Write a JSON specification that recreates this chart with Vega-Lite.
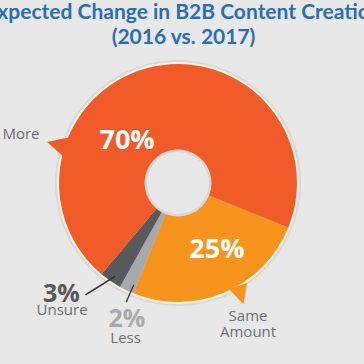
{
  "$schema": "https://vega.github.io/schema/vega-lite/v6.json",
  "width": 356,
  "height": 246,
  "autosize": {"type": "none"},
  "padding": {"left": 0, "top": 60, "right": 8, "bottom": 58},
  "background": "#E8E8E8",
  "title": {
    "text": ["Expected Change in B2B Content Creation", "(2016 vs. 2017)"],
    "font": "Lato",
    "fontSize": 21,
    "fontWeight": "bold",
    "color": "#2B6DB5",
    "lineHeight": 25,
    "anchor": "middle",
    "frame": "group",
    "dx": 5.5,
    "offset": 12
  },
  "data": {
    "values": [
      {"Answer": "Same Amount", "Percent": 25, "Order": 1, "Label": "25%"},
      {"Answer": "Less", "Percent": 2, "Order": 2, "Label": "2%"},
      {"Answer": "Unsure", "Percent": 3, "Order": 3, "Label": "3%"},
      {"Answer": "More", "Percent": 70, "Order": 4, "Label": "70%"}
    ]
  },
  "transform": [
    {"stack": "Percent", "groupby": [], "sort": [{"field": "Order", "order": "ascending"}], "as": ["p0", "p1"]}
  ],
  "layer": [
    {
      "mark": {"type": "arc", "outerRadius": 123, "innerRadius": 31, "fill": "#cdcdcd", "opacity": 0.6},
      "encoding": {
        "theta": {"field": "p0", "type": "quantitative", "scale": {"domain": [0, 100], "range": [1.9548, 8.238]}},
        "theta2": {"field": "p1"}
      }
    },
    {
      "mark": {"type": "arc", "outerRadius": 121, "innerRadius": 110, "fill": "#FDF3E3"},
      "encoding": {"theta": {"field": "p0", "type": "quantitative"}, "theta2": {"field": "p1"}}
    },
    {
      "mark": {"type": "arc", "outerRadius": 119, "innerRadius": 33.5},
      "encoding": {
        "theta": {"field": "p0", "type": "quantitative"},
        "theta2": {"field": "p1"},
        "color": {
          "field": "Answer", "type": "nominal",
          "scale": {"domain": ["More", "Same Amount", "Less", "Unsure"], "range": ["#F15A29", "#F7941D", "#A7A9AC", "#58595B"]},
          "legend": null
        }
      }
    },
    {
      "transform": [{"filter": "datum.Answer === 'Less'"}],
      "mark": {"type": "arc", "innerRadius": 111, "outerRadius": 130, "thetaOffset": 0.026, "theta2Offset": 0.026, "stroke": "#333333", "strokeWidth": 1.3, "fill": null},
      "encoding": {"theta": {"field": "p0", "type": "quantitative"}, "theta2": {"field": "p0"}}
    },
    {
      "transform": [{"filter": "datum.Answer === 'Unsure'"}],
      "mark": {"type": "text", "text": "───", "radius": 129, "thetaOffset": 0.136, "font": "DejaVu Sans Mono", "fontSize": 19, "angle": -32, "fill": "#333333"},
      "encoding": {"theta": {"field": "p0", "type": "quantitative"}}
    },
    {
      "transform": [{"filter": "datum.Answer === 'More'"}],
      "mark": {"type": "text", "text": "◀", "radius": 127, "thetaOffset": 1.187, "font": "DejaVu Sans", "fontSize": 27, "angle": 15, "fill": "#F15A29"},
      "encoding": {"theta": {"field": "p0", "type": "quantitative"}}
    },
    {
      "transform": [{"filter": "datum.Answer === 'Same Amount'"}],
      "mark": {"type": "text", "text": "▼", "radius": 127, "thetaOffset": 0.674, "font": "DejaVu Sans", "fontSize": 25, "angle": -17, "fill": "#F7941D"},
      "encoding": {"theta": {"field": "p0", "type": "quantitative"}}
    },
    {
      "transform": [{"filter": "datum.Answer === 'More'"}],
      "mark": {"type": "text", "radius": 66, "thetaOffset": 1.562, "font": "Open Sans", "fontWeight": "bold", "fontSize": 27, "fill": "#FFFFFF"},
      "encoding": {"theta": {"field": "p0", "type": "quantitative"}, "text": {"field": "Label"}}
    },
    {
      "transform": [{"filter": "datum.Answer === 'Same Amount'"}],
      "mark": {"type": "text", "radius": 77.5, "thetaOffset": 0.66, "font": "Open Sans", "fontWeight": "bold", "fontSize": 27, "fill": "#FFFFFF"},
      "encoding": {"theta": {"field": "p0", "type": "quantitative"}, "text": {"field": "Label"}}
    },
    {
      "transform": [{"filter": "datum.Answer === 'More'"}],
      "mark": {"type": "text", "radius": 164.5, "thetaOffset": 1.175, "font": "Open Sans", "fontSize": 15, "fill": "#6D6E71"},
      "encoding": {"theta": {"field": "p0", "type": "quantitative"}, "text": {"field": "Answer"}}
    },
    {
      "transform": [{"filter": "datum.Answer === 'Same Amount'"}],
      "mark": {"type": "text", "radius": 150.3, "thetaOffset": 0.702, "font": "Open Sans", "fontSize": 15, "fill": "#6D6E71", "lineBreak": " ", "lineHeight": 16},
      "encoding": {"theta": {"field": "p0", "type": "quantitative"}, "text": {"field": "Answer"}}
    },
    {
      "transform": [{"filter": "datum.Answer === 'Unsure'"}],
      "mark": {"type": "text", "radius": 161, "thetaOffset": 0.3, "font": "Open Sans", "fontWeight": "bold", "fontSize": 25, "fill": "#58595B"},
      "encoding": {"theta": {"field": "p0", "type": "quantitative"}, "text": {"field": "Label"}}
    },
    {
      "transform": [{"filter": "datum.Answer === 'Unsure'"}],
      "mark": {"type": "text", "radius": 172, "thetaOffset": 0.23, "font": "Open Sans", "fontSize": 15, "fill": "#6D6E71"},
      "encoding": {"theta": {"field": "p0", "type": "quantitative"}, "text": {"field": "Answer"}}
    },
    {
      "transform": [{"filter": "datum.Answer === 'Less'"}],
      "mark": {"type": "text", "radius": 145, "thetaOffset": -0.024, "font": "Open Sans", "fontWeight": "bold", "fontSize": 25, "fill": "#A7A9AC"},
      "encoding": {"theta": {"field": "p0", "type": "quantitative"}, "text": {"field": "Label"}}
    },
    {
      "transform": [{"filter": "datum.Answer === 'Less'"}],
      "mark": {"type": "text", "radius": 163.6, "thetaOffset": -0.058, "font": "Open Sans", "fontSize": 15, "fill": "#6D6E71"},
      "encoding": {"theta": {"field": "p0", "type": "quantitative"}, "text": {"field": "Answer"}}
    }
  ]
}
